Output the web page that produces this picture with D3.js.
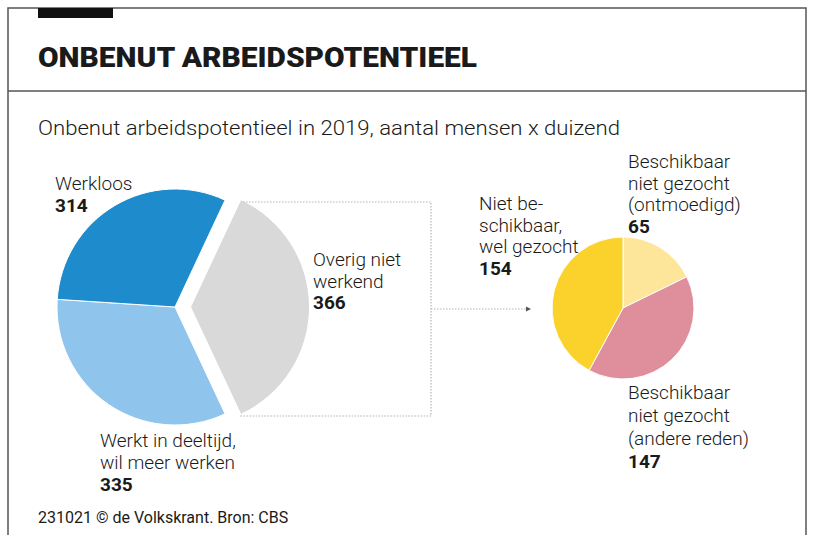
<!DOCTYPE html>
<html><head><meta charset="utf-8">
<script src="https://cdn.jsdelivr.net/npm/d3@7"></script>
<style>
html,body{margin:0;padding:0;background:#fff;}
svg text{font-family:Roboto,"Noto Sans",sans-serif;fill:#1a1a1a;}
</style></head>
<body>
<svg id="c" width="820" height="535"></svg>
<script>
const title = "ONBENUT ARBEIDSPOTENTIEEL";
const subtitle = "Onbenut arbeidspotentieel in 2019, aantal mensen x duizend";
const footer = "231021 © de Volkskrant. Bron: CBS";

// big pie (clockwise order starting with exploded slice)
const mainCategories = ["Overig niet werkend", "Werkt in deeltijd, wil meer werken", "Werkloos"];
const mainValues = [366, 335, 314];
const mainColors = ["#d9d9d9", "#8fc4ec", "#1e8bcd"];
const mainLabelLines = [["Overig niet", "werkend"], ["Werkt in deeltijd,", "wil meer werken"], ["Werkloos"]];

// small pie: breakdown of "Overig niet werkend"
const subCategories = ["Beschikbaar niet gezocht (ontmoedigd)", "Beschikbaar niet gezocht (andere reden)", "Niet beschikbaar, wel gezocht"];
const subValues = [65, 147, 154];
const subColors = ["#fde699", "#df8f9b", "#fbd22c"];
const subLabelLines = [["Beschikbaar", "niet gezocht", "(ontmoedigd)"], ["Beschikbaar", "niet gezocht", "(andere reden)"], ["Niet be-", "schikbaar,", "wel gezocht"]];

const svg = d3.select("#c");

// frame
svg.append("path").attr("d","M8,535V8H806V535").attr("fill","none").attr("stroke","#555").attr("stroke-width",1.5);
svg.append("rect").attr("x",38).attr("y",8).attr("width",75).attr("height",10).attr("fill","#111");
svg.append("line").attr("x1",8).attr("x2",806).attr("y1",91).attr("y2",91).attr("stroke","#555").attr("stroke-width",1.5);

svg.append("text").attr("x",38).attr("y",67).text(title)
  .style("font-size","28px").style("font-weight",900).attr("textLength",439).attr("lengthAdjust","spacingAndGlyphs");
svg.append("text").attr("x",38).attr("y",135).text(subtitle)
  .style("font-size","21px").style("font-weight",300).attr("textLength",582).attr("lengthAdjust","spacingAndGlyphs");
svg.append("text").attr("x",38).attr("y",523).text(footer)
  .style("font-size","16px").style("font-weight",400);

// big pie
const cx = 175, cy = 307, R = 118;
const total = d3.sum(mainValues);
const g0 = mainValues[0] / total * 2 * Math.PI;
const a0 = Math.PI/2 - g0/2;
const pie = d3.pie().sort(null).startAngle(a0).endAngle(a0 + 2*Math.PI);
const arc = d3.arc().innerRadius(0).outerRadius(R);
const mainArcs = pie(mainValues);
const mg = svg.append("g").attr("transform",`translate(${cx},${cy})`);
mg.selectAll("path").data(mainArcs).join("path")
  .attr("d", arc)
  .attr("fill",(d,i)=>mainColors[i])
  .attr("stroke","#fff").attr("stroke-width",(d,i)=>i===0?0:1)
  .attr("transform",(d,i)=>i===0?"translate(16,0)":null);
// white gap around exploded slice
mg.selectAll("path.gap").data([mainArcs[0]]).join("path").attr("class","gap")
  .attr("d", arc).attr("fill","none").attr("stroke","#fff").attr("stroke-width",6)
  .attr("transform","translate(16,0)").lower();

// dotted connector
const dot = {stroke:"#b5b5b5","stroke-width":1.2,"stroke-dasharray":"1.5,1.5",fill:"none"};
const conn = svg.append("g");
conn.append("path").attr("d","M243,202H431V416H240").call(s=>Object.entries(dot).forEach(([k,v])=>s.attr(k,v)));
conn.append("path").attr("d","M431,309H526").call(s=>Object.entries(dot).forEach(([k,v])=>s.attr(k,v)));
conn.append("path").attr("d","M526,306.5L531,309L526,311.5Z").attr("fill","#555");

// small pie
const sx = 623, sy = 308, r = 71;
const spie = d3.pie().sort(null);
const sarc = d3.arc().innerRadius(0).outerRadius(r);
svg.append("g").attr("transform",`translate(${sx},${sy})`)
  .selectAll("path").data(spie(subValues)).join("path")
  .attr("d", sarc).attr("fill",(d,i)=>subColors[i]).attr("stroke","#fff").attr("stroke-width",1);

// labels
function label(x, y, lines, value, lh){
  const t = svg.append("g");
  lines.forEach((l,i)=>t.append("text").attr("x",x).attr("y",y+i*lh).text(l).style("font-size","19px").style("font-weight",300));
  t.append("text").attr("x",x).attr("y",y+lines.length*lh).text(value).style("font-size","19px").style("font-weight",700);
}
label(55, 190, mainLabelLines[2], mainValues[2], 22);
label(313, 266, mainLabelLines[0], mainValues[0], 21.5);
label(100, 447, mainLabelLines[1], mainValues[1], 22);
label(628, 168, subLabelLines[0], subValues[0], 21.5);
label(628, 399, subLabelLines[1], subValues[1], 23);
label(479, 210, subLabelLines[2], subValues[2], 21.5);
</script>
</body></html>
